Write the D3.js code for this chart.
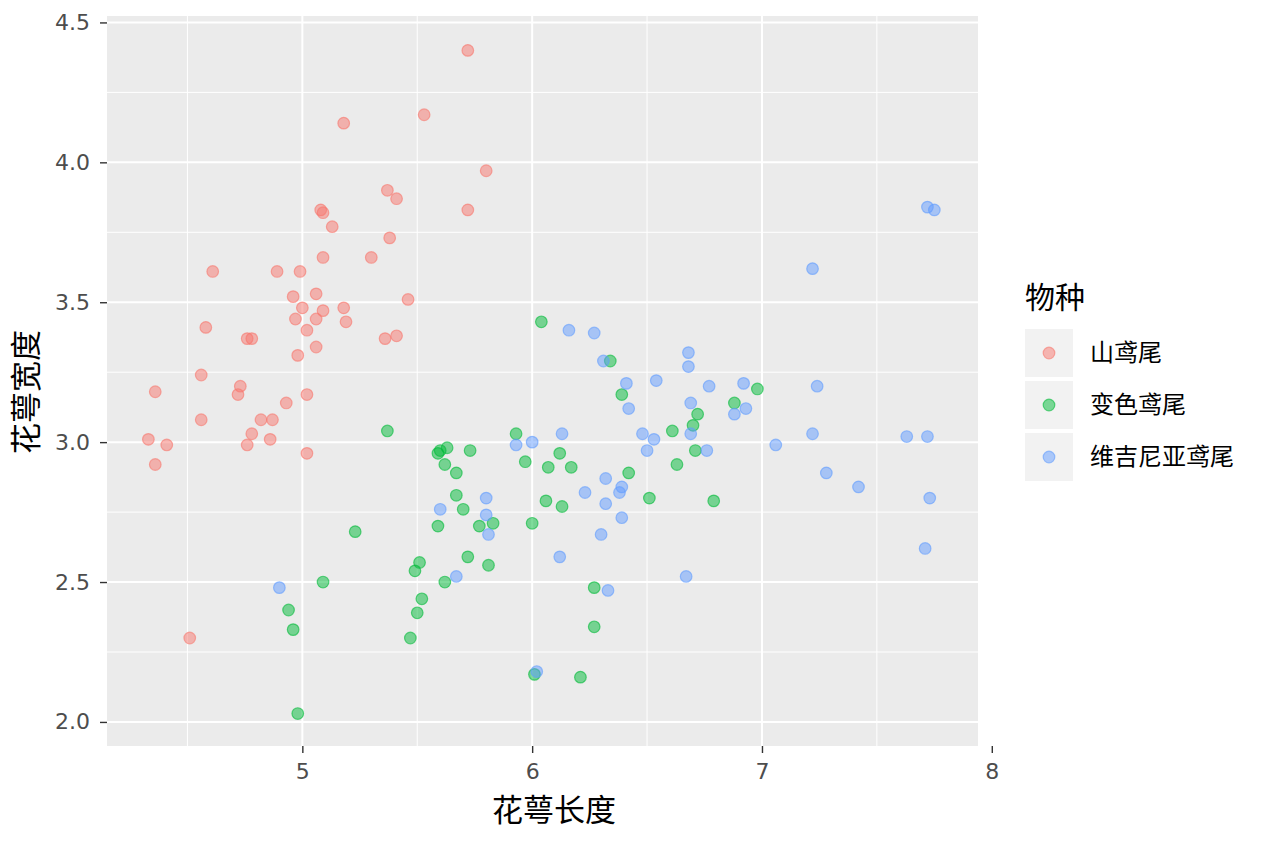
<!DOCTYPE html>
<html>
<head>
<meta charset="utf-8">
<script src="https://cdn.jsdelivr.net/npm/d3@7"></script>
<style>
  body { margin: 0; background: #fff; }
  text { font-family: "DejaVu Sans", "Noto Sans CJK SC", sans-serif; }
  .cjk { font-family: "Noto Sans CJK SC", sans-serif; }
</style>
</head>
<body>
<svg id="chart"></svg>
<script>
const width = 1264;
const height = 843;

// species names (legend order) and colours
const species = ["山鸢尾", "变色鸢尾", "维吉尼亚鸢尾"];
const colors = ["#F8766D", "#00BA38", "#619CFF"];

// [sepal length, sepal width] per species
const setosa = [
  [5.72, 4.40], [5.53, 4.17], [5.18, 4.14], [5.80, 3.97], [5.72, 3.83], [5.37, 3.90], [5.41, 3.87],
  [5.08, 3.83], [5.09, 3.82], [5.13, 3.77], [5.38, 3.73], [5.09, 3.66], [5.30, 3.66], [4.61, 3.61],
  [4.89, 3.61], [4.99, 3.61], [5.06, 3.53], [4.96, 3.52], [5.46, 3.51], [5.00, 3.48], [5.18, 3.48],
  [5.09, 3.47], [5.06, 3.44], [4.97, 3.44], [5.19, 3.43], [5.02, 3.40], [4.58, 3.41], [4.76, 3.37],
  [4.78, 3.37], [5.36, 3.37], [5.41, 3.38], [5.06, 3.34], [4.98, 3.31], [4.36, 3.18], [4.56, 3.24],
  [4.73, 3.20], [4.72, 3.17], [5.02, 3.17], [4.93, 3.14], [4.56, 3.08], [4.82, 3.08], [4.87, 3.08],
  [4.78, 3.03], [4.76, 2.99], [4.86, 3.01], [4.33, 3.01], [4.41, 2.99], [4.36, 2.92], [5.02, 2.96],
  [4.51, 2.30]
];
const versicolor = [
  [5.37, 3.04], [5.59, 2.96], [5.63, 2.98], [5.60, 2.97], [5.73, 2.97], [5.62, 2.92], [5.67, 2.89],
  [5.67, 2.81], [5.70, 2.76], [5.59, 2.70], [5.77, 2.70], [5.83, 2.71], [6.00, 2.71], [5.93, 3.03],
  [5.97, 2.93], [5.23, 2.68], [5.51, 2.57], [5.49, 2.54], [5.72, 2.59], [5.81, 2.56], [5.62, 2.50],
  [5.09, 2.50], [5.52, 2.44], [5.50, 2.39], [4.94, 2.40], [4.96, 2.33], [5.47, 2.30], [4.98, 2.03],
  [6.01, 2.17], [6.04, 3.43], [6.34, 3.29], [6.39, 3.17], [6.98, 3.19], [6.88, 3.14], [6.72, 3.10],
  [6.70, 3.06], [6.61, 3.04], [6.71, 2.97], [6.12, 2.96], [6.07, 2.91], [6.17, 2.91], [6.63, 2.92],
  [6.42, 2.89], [6.06, 2.79], [6.13, 2.77], [6.51, 2.80], [6.79, 2.79], [6.27, 2.48], [6.27, 2.34],
  [6.21, 2.16]
];
const virginica = [
  [4.90, 2.48], [5.80, 2.80], [5.60, 2.76], [5.80, 2.74], [5.81, 2.67], [5.67, 2.52], [5.93, 2.99],
  [6.00, 3.00], [6.02, 2.18], [6.16, 3.40], [6.27, 3.39], [6.31, 3.29], [6.68, 3.32], [6.68, 3.27],
  [6.54, 3.22], [6.41, 3.21], [6.42, 3.12], [6.77, 3.20], [6.92, 3.21], [6.93, 3.12], [6.69, 3.14],
  [6.88, 3.10], [6.13, 3.03], [6.48, 3.03], [6.53, 3.01], [6.69, 3.03], [6.50, 2.97], [6.76, 2.97],
  [7.06, 2.99], [6.32, 2.87], [6.39, 2.84], [6.38, 2.82], [6.23, 2.82], [6.32, 2.78], [6.39, 2.73],
  [6.30, 2.67], [6.33, 2.47], [6.12, 2.59], [6.67, 2.52], [7.22, 3.62], [7.24, 3.20], [7.22, 3.03],
  [7.28, 2.89], [7.42, 2.84], [7.63, 3.02], [7.72, 3.02], [7.73, 2.80], [7.71, 2.62], [7.72, 3.84],
  [7.75, 3.83]
];

// tick values
const xTicks = [5, 6, 7, 8];
const xMinor = [4.5, 5.5, 6.5, 7.5];
const yTicks = [2.0, 2.5, 3.0, 3.5, 4.0, 4.5];
const yMinor = [2.25, 2.75, 3.25, 3.75, 4.25];

const panel = { left: 107, right: 978, top: 16, bottom: 746 };

let svg = d3.select("#chart")
  .attr("width", width)
  .attr("height", height);

const xScale = d3.scaleLinear()
  .domain([4.15, 7.94])
  .range([panel.left, panel.right]);

const yScale = d3.scaleLinear()
  .domain([1.914, 4.523])
  .range([panel.bottom, panel.top]);

// panel background
svg.append("rect")
  .attr("x", panel.left)
  .attr("y", panel.top)
  .attr("width", panel.right - panel.left)
  .attr("height", panel.bottom - panel.top)
  .attr("fill", "#EBEBEB");

// grid lines (minor thin, major thick)
const grid = svg.append("g");
grid.selectAll(".xminor")
  .data(xMinor)
  .enter()
  .append("line")
  .attr("x1", d => xScale(d)).attr("x2", d => xScale(d))
  .attr("y1", panel.top).attr("y2", panel.bottom)
  .attr("stroke", "#fff").attr("stroke-width", 1);
grid.selectAll(".yminor")
  .data(yMinor)
  .enter()
  .append("line")
  .attr("y1", d => yScale(d)).attr("y2", d => yScale(d))
  .attr("x1", panel.left).attr("x2", panel.right)
  .attr("stroke", "#fff").attr("stroke-width", 1);
grid.selectAll(".xmajor")
  .data(xTicks.filter(d => xScale(d) < panel.right))
  .enter()
  .append("line")
  .attr("x1", d => xScale(d)).attr("x2", d => xScale(d))
  .attr("y1", panel.top).attr("y2", panel.bottom)
  .attr("stroke", "#fff").attr("stroke-width", 2);
grid.selectAll(".ymajor")
  .data(yTicks)
  .enter()
  .append("line")
  .attr("y1", d => yScale(d)).attr("y2", d => yScale(d))
  .attr("x1", panel.left).attr("x2", panel.right)
  .attr("stroke", "#fff").attr("stroke-width", 2);

// points, drawn in species order
const groups = [setosa, versicolor, virginica];
groups.forEach(function (pts, i) {
  svg.append("g")
    .selectAll("circle")
    .data(pts)
    .enter()
    .append("circle")
    .attr("cx", d => xScale(d[0]))
    .attr("cy", d => yScale(d[1]))
    .attr("r", 5.8)
    .attr("fill", colors[i])
    .attr("fill-opacity", 0.5)
    .attr("stroke", colors[i])
    .attr("stroke-opacity", 0.6)
    .attr("stroke-width", 1.2);
});

// x axis
const xAxis = d3.axisBottom(xScale)
  .tickValues(xTicks)
  .tickSize(7)
  .tickPadding(10)
  .tickFormat(d3.format("d"));
const gx = svg.append("g")
  .attr("transform", `translate(0, ${panel.bottom})`)
  .call(xAxis);
gx.select(".domain").remove();
gx.selectAll("line").attr("stroke", "#333").attr("stroke-width", 1.4);
gx.selectAll("text")
  .attr("fill", "#4D4D4D")
  .style("font-size", "22px");

// y axis
const yAxis = d3.axisLeft(yScale)
  .tickValues(yTicks)
  .tickSize(7)
  .tickPadding(10)
  .tickFormat(d3.format(".1f"));
const gy = svg.append("g")
  .attr("transform", `translate(${panel.left}, 0)`)
  .call(yAxis);
gy.select(".domain").remove();
gy.selectAll("line").attr("stroke", "#333").attr("stroke-width", 1.4);
gy.selectAll("text")
  .attr("fill", "#4D4D4D")
  .style("font-size", "22px");

// axis titles
svg.append("text")
  .attr("class", "cjk")
  .attr("x", 554)
  .attr("y", 821)
  .attr("text-anchor", "middle")
  .style("font-size", "31px")
  .text("花萼长度");

svg.append("text")
  .attr("class", "cjk")
  .attr("transform", "rotate(-90)")
  .attr("x", -392)
  .attr("y", 37)
  .attr("text-anchor", "middle")
  .style("font-size", "31px")
  .text("花萼宽度");

// legend
const legend = svg.append("g")
  .attr("transform", "translate(1025, 0)");

legend.append("text")
  .attr("class", "cjk")
  .attr("x", 0)
  .attr("y", 308)
  .style("font-size", "30px")
  .text("物种");

const keys = legend.selectAll(".key")
  .data(species)
  .enter()
  .append("g")
  .attr("transform", (d, i) => `translate(0, ${329 + i * 52})`);

keys.append("rect")
  .attr("width", 48)
  .attr("height", 48)
  .attr("fill", "#F2F2F2");

keys.append("circle")
  .attr("cx", 24)
  .attr("cy", 24)
  .attr("r", 5.8)
  .attr("fill", (d, i) => colors[i])
  .attr("fill-opacity", 0.5)
  .attr("stroke", (d, i) => colors[i])
  .attr("stroke-opacity", 0.6)
  .attr("stroke-width", 1.2);

keys.append("text")
  .attr("class", "cjk")
  .attr("x", 65)
  .attr("y", 24)
  .attr("dy", "0.35em")
  .style("font-size", "24px")
  .text(d => d);
</script>
</body>
</html>
